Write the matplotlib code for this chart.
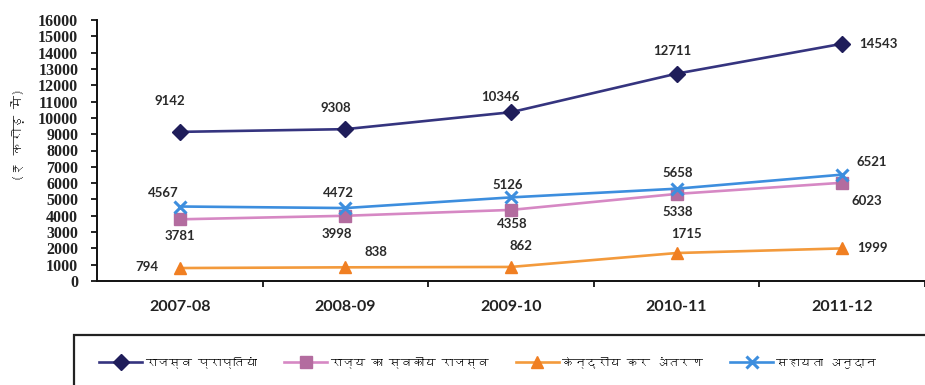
import matplotlib
matplotlib.use("Agg")
import matplotlib.pyplot as plt
from matplotlib import font_manager
from matplotlib.ft2font import FT2Font
from matplotlib.patches import Rectangle

# ---- data -------------------------------------------------------------
years = ["2007-08", "2008-09", "2009-10", "2010-11", "2011-12"]
revenue_receipts = [9142, 9308, 10346, 12711, 14543]
own_revenue = [3781, 3998, 4358, 5338, 6023]
central_tax_share = [794, 838, 862, 1715, 1999]
grants_in_aid = [4567, 4472, 5126, 5658, 6521]

series_names = ["राजस्व प्राप्तियां", "राज्य का स्वकीय राजस्व",
                "केन्द्रीय कर अंतरण", "सहायता अनुदान"]
y_title = "(₹ करोड़ में)"
y_ticks = list(range(0, 16001, 1000))


def family_with(ch, fallback):
    """Return the first installed family that has a glyph for ch."""
    seen = set()
    for f in font_manager.fontManager.ttflist:
        if f.fname in seen:
            continue
        seen.add(f.fname)
        try:
            if ord(ch) in FT2Font(f.fname).get_charmap():
                return f.name
        except Exception:
            continue
    return fallback


deva = family_with("र", "DejaVu Sans")
deva_fams = [deva, "DejaVu Sans"]

# ---- figure -----------------------------------------------------------
W, H = 925, 385
fig = plt.figure(figsize=(W / 100, H / 100), dpi=100)
left_px, right_px, top_px, bottom_px = 97, 925, 20, 281
ax = fig.add_axes([left_px / W, 1 - bottom_px / H,
                   (right_px - left_px) / W, (bottom_px - top_px) / H])

x = list(range(len(years)))
styles = [
    dict(color="#35347f", marker="D", ms=8, mfc="#1f1d5a", mec="#1f1d5a"),
    dict(color="#d688c4", marker="s", ms=8, mfc="#b36c9f", mec="#b36c9f"),
    dict(color="#f39a3c", marker="^", ms=9, mfc="#f07f22", mec="#f07f22"),
    dict(color="#3d8ede", marker="x", ms=9, mew=2.2, mfc="#3d8ede", mec="#3d8ede"),
]
all_series = [revenue_receipts, own_revenue, central_tax_share, grants_in_aid]
handles = []
for vals, st, name in zip(all_series, styles, series_names):
    h, = ax.plot(x, vals, lw=1.9, label=name, zorder=3, **st)
    handles.append(h)

# value labels: offsets in points relative to each point
offsets = [
    [(-7, 22), (-7, 15), (-8, 11), (-3, 16), (26, 0)],
    [(0, -12), (-6, -13), (1, -10), (1, -13), (18, -13)],
    [(-24, 1), (22, 11), (7, 15), (7, 14), (22, 0)],
    [(-12, 10), (-5, 11), (-2, 9), (1, 11), (21, 9)],
]
for vals, offs in zip(all_series, offsets):
    for xi, v, (dx, dy) in zip(x, vals, offs):
        ax.annotate(f"{v}", (xi, v), xytext=(dx, dy), textcoords="offset points",
                    ha="center", va="center", fontsize=9.5, fontweight="bold",
                    family="Lato", color="#2a2a2a", zorder=5)

# axes styling
ax.set_ylim(0, 16000)
ax.set_xlim(-0.5, -0.5 + (right_px - left_px) / 167.0)
ax.set_yticks(y_ticks)
ax.set_yticklabels([str(t) for t in y_ticks], family="Liberation Serif",
                   fontweight="bold", fontsize=11.5, color="#222222")
ax.tick_params(axis="y", direction="out", length=4.5, width=1.2, pad=9)
ax.set_xticks(x)
ax.set_xticklabels(years, family="Lato", fontweight="bold", fontsize=11.5,
                   color="#222222")
ax.set_xticks([i + 0.5 for i in range(len(years))], minor=True)
ax.tick_params(axis="x", which="major", length=0, pad=14)
ax.tick_params(axis="x", which="minor", direction="out", length=4.5, width=1.2)
for s in ("top", "right"):
    ax.spines[s].set_visible(False)
for s in ("left", "bottom"):
    ax.spines[s].set_linewidth(1.4)
    ax.spines[s].set_color("#111111")

fig.text(18 / W, 1 - 135 / H, y_title, rotation=90, ha="center", va="center",
         fontsize=9.5, family=deva_fams, color="#222222")

# legend with an open-ended frame along the bottom
fig.patches.append(Rectangle((74 / W, -0.05), 1.0, 1 - 335 / H + 0.05,
                             transform=fig.transFigure, fill=False,
                             ec="#222222", lw=1.6))
leg = fig.legend(handles=handles, loc="center left",
                 bbox_to_anchor=(90 / W, 1 - 362 / H), ncol=4, frameon=False,
                 handlelength=3.6, handletextpad=0.3, columnspacing=2.3,
                 borderpad=0.3, prop=dict(family=deva_fams, size=8.5))

fig.savefig("out.png", dpi=100, facecolor="white")
